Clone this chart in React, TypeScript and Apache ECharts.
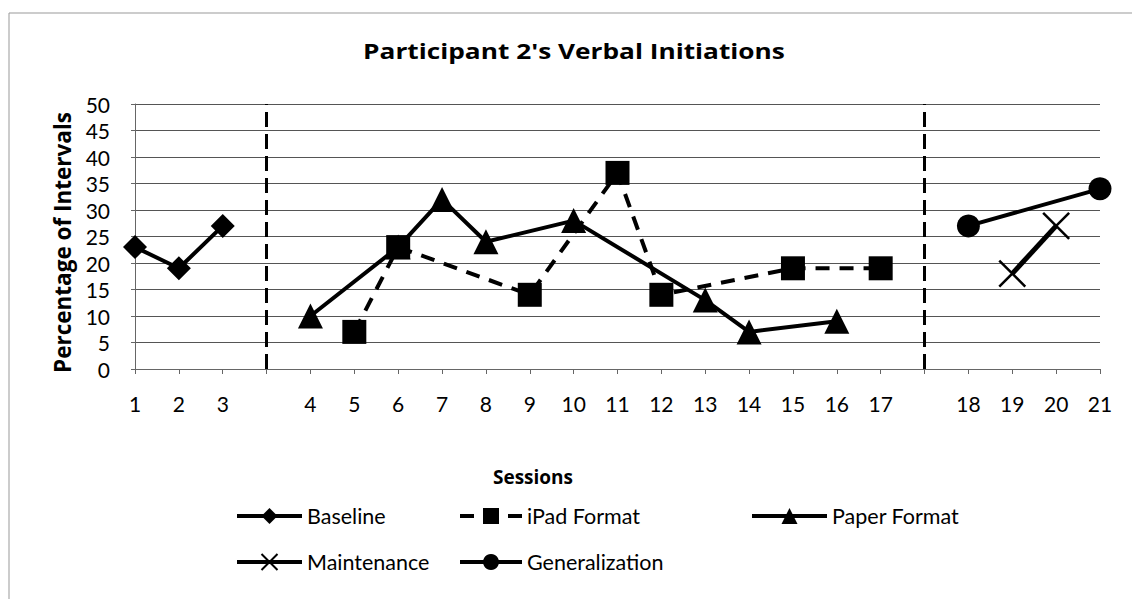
import { useEffect, useRef } from "react";
import * as echarts from "echarts";

const sessions = ["1", "2", "3", "", "4", "5", "6", "7", "8", "9", "10", "11", "12", "13", "14", "15", "16", "17", " ", "18", "19", "20", "21"];
const phaseBreaks = [3, 18];

const baselineX = ["1", "2", "3"];
const baselineY = [23, 19, 27];
const ipadX = ["5", "6", "9", "11", "12", "15", "17"];
const ipadY = [7, 23, 14, 37, 14, 19, 19];
const paperX = ["4", "6", "7", "8", "10", "13", "14", "16"];
const paperY = [10, 23, 32, 24, 28, 13, 7, 9];
const maintX = ["19", "20"];
const maintY = [18, 27];
const genX = ["18", "21"];
const genY = [27, 34];

const FONT = "Lato";
const BOLD_FONT = "'Open Sans'";
const X_PATH = "path://M0,0L10,10M10,0L0,10";

const pairs = (xs: string[], ys: number[]) => xs.map((x, i) => [x, ys[i]]);

export default function App() {
  const ref = useRef<HTMLDivElement>(null);
  useEffect(() => {
    if (!ref.current) return;
    const chart = echarts.init(ref.current, null, { renderer: "svg" });
    const legendText = { fontFamily: FONT, fontSize: 21.5, color: "#000" };
    const mkLegend = (name: string, left: number, top: number, w: number) => ({
      data: [name],
      left,
      top,
      padding: 0,
      itemWidth: w,
      itemHeight: 20,
      selectedMode: false,
      lineStyle: { width: 4 },
      textStyle: legendText,
    });
    chart.setOption({
      animation: false,
      backgroundColor: "#fff",
      grid: { left: 135, right: 32, top: 104, bottom: 230, containLabel: false },
      graphic: [
        {
          type: "polyline",
          shape: { points: [[9, 599], [9, 13], [1132, 13]] },
          style: { stroke: "#999", lineWidth: 1, fill: "none" },
          silent: true,
        },
        {
          type: "text",
          x: 574,
          y: 51,
          scaleX: 1.25,
          originX: 0,
          style: {
            text: "Participant 2's Verbal Initiations",
            font: `bold 21px ${BOLD_FONT}`,
            fill: "#000",
            align: "center",
            verticalAlign: "middle",
          },
        },
        {
          type: "text",
          x: 533,
          y: 477,
          style: {
            text: "Sessions",
            font: `bold 19px ${BOLD_FONT}`,
            fill: "#000",
            align: "center",
            verticalAlign: "middle",
          },
        },
      ],
      legend: [
        mkLegend("Baseline", 235, 505, 65),
        mkLegend("iPad Format", 458, 505, 62),
        mkLegend("Paper Format", 750, 505, 75),
        mkLegend("Maintenance", 235, 551, 65),
        mkLegend("Generalization", 458, 551, 62),
      ],
      xAxis: {
        type: "category",
        data: sessions,
        boundaryGap: false,
        axisLine: { show: true, lineStyle: { color: "#666", width: 1 } },
        axisTick: { show: true, interval: 0, length: 5, lineStyle: { color: "#666" } },
        axisLabel: { interval: 0, margin: 24, fontFamily: FONT, fontSize: 21, color: "#000" },
        splitLine: { show: false },
      },
      yAxis: {
        type: "value",
        min: 0,
        max: 50,
        interval: 5,
        name: "Percentage of Intervals",
        nameLocation: "middle",
        nameGap: 61,
        nameTextStyle: { fontFamily: "Open Sans", fontSize: 22.5, fontWeight: "bold", color: "#000", padding: [0, 12, 0, 0] },
        axisLine: { show: true, lineStyle: { color: "#666", width: 1 } },
        axisTick: { show: true, length: 4, lineStyle: { color: "#666" } },
        axisLabel: { margin: 25, fontFamily: FONT, fontSize: 21, color: "#000" },
        splitLine: { show: true, lineStyle: { color: "#555", width: 1 } },
      },
      series: [
        {
          name: "Baseline",
          type: "line",
          data: pairs(baselineX, baselineY),
          symbol: "diamond",
          symbolSize: 24,
          lineStyle: { color: "#000", width: 4 },
          itemStyle: { color: "#000" },
          markLine: {
            silent: true,
            symbol: ["none", "none"],
            label: { show: false },
            lineStyle: { color: "#000", width: 3, type: [15, 7] },
            data: phaseBreaks.map((i) => ({ xAxis: i })),
          },
        },
        {
          name: "iPad Format",
          type: "line",
          data: pairs(ipadX, ipadY),
          symbol: "rect",
          symbolSize: 24,
          lineStyle: { color: "#000", width: 4, type: [14, 10] },
          itemStyle: { color: "#000" },
        },
        {
          name: "Paper Format",
          type: "line",
          data: pairs(paperX, paperY),
          symbol: "triangle",
          symbolSize: 25,
          lineStyle: { color: "#000", width: 4 },
          itemStyle: { color: "#000" },
        },
        {
          name: "Maintenance",
          type: "line",
          data: pairs(maintX, maintY),
          symbol: X_PATH,
          symbolSize: 26,
          lineStyle: { color: "#000", width: 5 },
          itemStyle: { color: "#000", borderColor: "#000", borderWidth: 2.5 },
        },
        {
          name: "Generalization",
          type: "line",
          data: pairs(genX, genY),
          symbol: "circle",
          symbolSize: 23,
          lineStyle: { color: "#000", width: 4 },
          itemStyle: { color: "#000" },
        },
      ],
    });
    return () => chart.dispose();
  }, []);
  return (
    <div
      ref={ref}
      style={{ position: "fixed", left: 0, top: 0, width: 1132, height: 599, background: "#fff" }}
    />
  );
}
